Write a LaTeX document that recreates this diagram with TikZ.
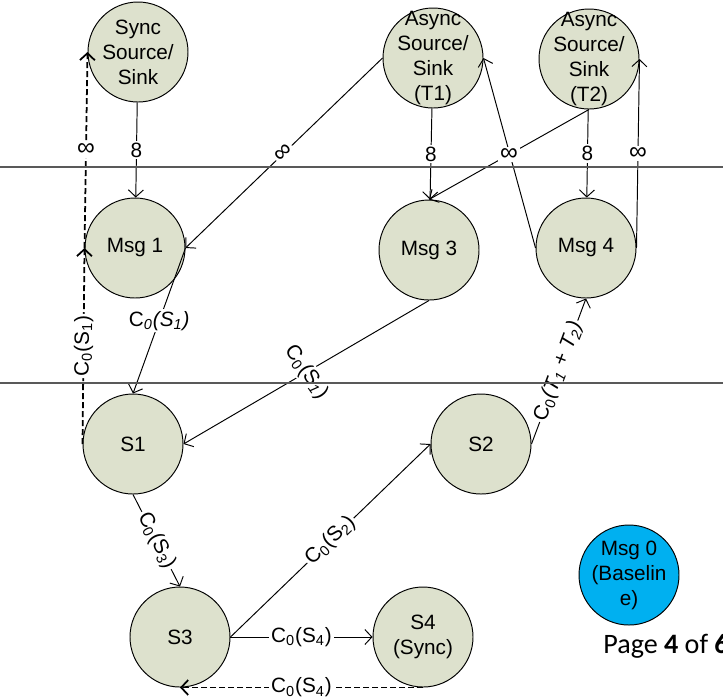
\documentclass[tikz,border=0pt]{standalone}
\usepackage{fontspec}
\setmainfont{Liberation Sans}
\newfontfamily\pagefont{Carlito}
\usetikzlibrary{arrows.meta}
\definecolor{statefill}{RGB}{221,225,205}
\definecolor{basefill}{RGB}{0,176,240}
\newcommand{\inftxt}{\scalebox{1.2}{∞}}

\begin{document}
\begin{tikzpicture}[x=0.2mm, y=-0.2mm, >={Straight Barb[length=1.4mm,width=3mm]},
  line width=0.55pt,
  state/.style={circle, draw, fill=statefill, minimum size=20mm, inner sep=0pt},
  txt/.style={align=center, font=\fontsize{11.8}{14.2}\selectfont},
  lab/.style={fill=white, inner sep=1pt, font=\fontsize{11.8}{14}\selectfont},
  back/.style={dash pattern=on 1.2mm off 0.6mm, line width=1pt}]
  \useasboundingbox (0,0) rectangle (723,696);
  \clip (0,0) rectangle (723,696);

  % sources and sinks
  \node[state, label={[txt]center:Sync\\Source/\\Sink}] (sync) at (138,52) {};
  \node[state, label={[txt]center:Async\\Source/\\Sink\\(T1)}] (t1) at (433,58) {};
  \node[state, label={[txt]center:Async\\Source/\\Sink\\(T2)}] (t2) at (589,59) {};
  % messages
  \node[state, label={[txt]center:Msg 1}] (msg1) at (135,248) {};
  \node[state, label={[txt]center:Msg 3}] (msg3) at (429,250) {};
  \node[state, label={[txt]center:Msg 4}] (msg4) at (586,248) {};
  % stages
  \node[state, label={[txt]center:S1}] (s1) at (133,444) {};
  \node[state, label={[txt]center:S2}] (s2) at (481,444) {};
  \node[state, label={[txt]center:S3}] (s3) at (180,637) {};
  \node[state, label={[txt]center:S4\\(Sync)}] (s4) at (423,637) {};
  \node[state, fill=basefill, label={[txt]center:Msg 0\\(Baselin\\e)}] (msg0) at (629,575) {};

  % source/sink to messages
  \draw[->] (sync) -- node[lab] {8} (msg1);
  \draw[->] (t1) -- node[lab] {8} (msg3);
  \draw[->] (t2) -- node[lab] {8} (msg4);
  \draw[->] (t1.west) -- node[lab, sloped] {\inftxt} (msg1.east);
  \draw[->] (msg4.west) -- (t1.east);
  \draw[->] (t2.south) -- node[lab] {\inftxt} (msg3.north);
  \draw[->] (msg4.east) -- node[lab] {\inftxt} (t2.east);

  % messages to stages
  \draw[->] (msg1.east) -- node[lab] {C\textsubscript{\textit{0}}\textit{(S\textsubscript{1})}} (s1.north);
  \draw[->] (msg3.south) -- node[lab, rotate=-55] {C\textsubscript{0}(S\textsubscript{\textit{1}})} (s1.east);
  \draw[->] (s2.east) -- node[lab, sloped] {C\textsubscript{0}\textit{(T\textsubscript{1} + T\textsubscript{2})}} (msg4.south);
  \draw[->] (s1.south) -- node[lab, sloped] {C\textsubscript{0}(S\textsubscript{3})} (s3.north);
  \draw[->] (s3.east) -- node[lab, sloped] {C\textsubscript{0}(S\textsubscript{2})} (s2.west);
  \draw[->] (s3) -- node[lab] {C\textsubscript{0}(S\textsubscript{4})} (s4);

  % feedback
  \draw[->, back] (s4.south) -- node[lab] {C\textsubscript{0}(S\textsubscript{4})} (s3.south);
  \draw[->, back] (s1.west) -- node[lab, sloped] {C\textsubscript{0}(S\textsubscript{1})} (msg1.west);
  \draw[->, back] (msg1.west) -- node[lab] {\inftxt} (sync.west);

  % boundaries
  \draw[black!65, line width=0.8pt] (0,167) -- (723,167);
  \draw[black!65, line width=0.8pt] (0,383) -- (723,383);

  \node[anchor=base west, font=\pagefont\fontsize{16}{19}\selectfont] (page) at (597,653) {Page \textbf{4} of \textbf{6}};
\end{tikzpicture}
\end{document}
